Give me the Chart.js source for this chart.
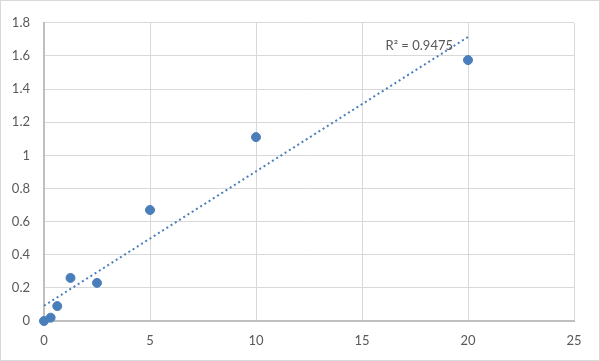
<!DOCTYPE html>
<html>
<head>
<meta charset="utf-8">
<script src="https://cdn.jsdelivr.net/npm/chart.js@4.4.1/dist/chart.umd.min.js"></script>
<style>
  html, body { margin: 0; padding: 0; background: #fff; }
  #wrap { width: 600px; height: 361px; box-sizing: border-box; border: 1px solid #d9d9d9; }
  canvas { display: block; }
</style>
</head>
<body>
<div id="wrap"><canvas id="c" width="598" height="359"></canvas></div>
<script>
// Standard curve readings
const concentrations = [0, 0.3125, 0.625, 1.25, 2.5, 5, 10, 20];
const absorbance = [0, 0.02, 0.09, 0.26, 0.23, 0.67, 1.11, 1.575];
const xTicks = [0, 5, 10, 15, 20, 25];
const yTicks = [0, 0.2, 0.4, 0.6, 0.8, 1, 1.2, 1.4, 1.6, 1.8];
const r2Label = "R\u00b2 = 0.9475";

const blue = '#4a7ebb';
const font = "Lato, 'Open Sans', sans-serif";

// least squares line for the dotted trendline
function linearFit(xs, ys) {
  const n = xs.length;
  const mx = xs.reduce((a, b) => a + b, 0) / n;
  const my = ys.reduce((a, b) => a + b, 0) / n;
  let sxy = 0, sxx = 0;
  for (let i = 0; i < n; i++) {
    sxy += (xs[i] - mx) * (ys[i] - my);
    sxx += (xs[i] - mx) * (xs[i] - mx);
  }
  const slope = sxy / sxx;
  return { slope: slope, intercept: my - slope * mx };
}

const fit = linearFit(concentrations, absorbance);
const xEnd = concentrations[concentrations.length - 1];
const trend = [
  { x: 0, y: fit.intercept },
  { x: xEnd, y: fit.intercept + fit.slope * xEnd }
];

// R² text drawn near the end of the trendline
const r2Plugin = {
  id: 'r2',
  afterDatasetsDraw(chart) {
    const ctx = chart.ctx;
    const x = chart.scales.x.getPixelForValue(xEnd) - 15;
    const y = chart.scales.y.getPixelForValue(1.8) + 23;
    ctx.save();
    ctx.font = "13px " + font;
    ctx.fillStyle = '#595959';
    ctx.textAlign = 'right';
    ctx.textBaseline = 'middle';
    ctx.fillText(r2Label, x, y);
    ctx.restore();
  }
};

new Chart(document.getElementById('c'), {
  type: 'scatter',
  data: {
    datasets: [
      {
        label: 'Standard',
        data: concentrations.map((c, i) => ({ x: c, y: absorbance[i] })),
        backgroundColor: blue,
        borderColor: blue,
        pointRadius: 4.5,
        clip: false,
        order: 1
      },
      {
        label: 'Trend',
        type: 'line',
        data: trend,
        borderColor: blue,
        borderWidth: 2,
        borderDash: [2, 3],
        pointRadius: 0,
        fill: false,
        clip: false,
        order: 2
      }
    ]
  },
  options: {
    responsive: false,
    animation: false,
    layout: { padding: { top: 18, right: 25, left: 0, bottom: 0 } },
    plugins: { legend: { display: false }, tooltip: { enabled: false } },
    scales: {
      x: {
        type: 'linear',
        min: 0,
        max: 25,
        afterBuildTicks: s => { s.ticks = xTicks.map(v => ({ value: v })); },
        afterFit: s => { s.height = 39; },
        grid: { color: '#d9d9d9', drawTicks: false },
        border: { color: '#bfbfbf', width: 2 },
        ticks: { color: '#595959', font: { family: font, size: 13 }, padding: 12 }
      },
      y: {
        min: 0,
        max: 1.8,
        afterBuildTicks: s => { s.ticks = yTicks.map(v => ({ value: v })); },
        afterFit: s => { s.width = 43; },
        grid: { color: '#d9d9d9', drawTicks: false },
        border: { color: '#bfbfbf', width: 2 },
        ticks: {
          color: '#595959',
          font: { family: font, size: 13 },
          padding: 14,
          callback: v => String(Number(v.toFixed(1)))
        }
      }
    }
  },
  plugins: [r2Plugin]
});
</script>
</body>
</html>
